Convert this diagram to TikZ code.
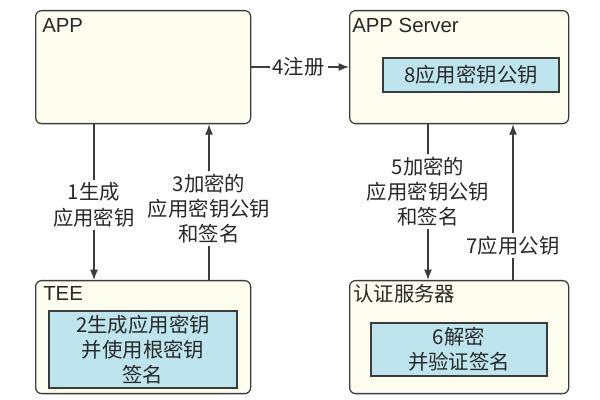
\documentclass[tikz,border=0pt]{standalone}
\usepackage{fontspec}
\setmainfont{Noto Sans CJK SC}
\newfontfamily\latinfont{Liberation Sans}
\usetikzlibrary{arrows.meta}
\definecolor{boxfill}{RGB}{254,254,240}
\definecolor{innerfill}{RGB}{190,229,238}
\definecolor{linegray}{RGB}{60,60,60}
\definecolor{textgray}{RGB}{40,40,40}
\tikzset{
	outerbox/.style={draw=linegray, fill=boxfill, rounded corners=1.5mm, line width=0.9pt, inner sep=0, anchor=north west},
	innerbox/.style={draw=linegray, fill=innerfill, line width=0.9pt, inner sep=0, align=center, text=textgray},
	boxtitle/.style={anchor=base west, inner sep=0, text=textgray},
	flow/.style={-{Latex[length=2.6mm,width=2mm]}, draw=linegray, line width=0.9pt},
	flowlabel/.style={fill=white, align=center, inner sep=2pt, text=textgray}
}

\begin{document}
\begin{tikzpicture}[font=\fontsize{14.5}{18}\selectfont]
	\useasboundingbox (0,0) rectangle (15,10);
	% outer boxes
	\node[outerbox, minimum width=5.375cm, minimum height=2.825cm] (app) at (0.875,9.75) {};
	\node[outerbox, minimum width=5.475cm, minimum height=2.825cm] (server) at (8.725,9.75) {};
	\node[outerbox, minimum width=5.375cm, minimum height=2.825cm] (tee) at (0.875,3.0) {};
	\node[outerbox, minimum width=5.475cm, minimum height=2.825cm] (auth) at (8.725,3.0) {};
	
	% titles
	\node[boxtitle, font=\latinfont\fontsize{14.5}{18}\selectfont] (apptitle) at ([xshift=0.175cm, yshift=-0.575cm]app.north west) {APP};
	\node[boxtitle, font=\latinfont\fontsize{14.5}{18}\selectfont] (servertitle) at ([xshift=0.075cm, yshift=-0.575cm]server.north west) {APP Server};
	\node[boxtitle, font=\latinfont\fontsize{14.5}{18}\selectfont] (teetitle) at ([xshift=0.2cm, yshift=-0.525cm]tee.north west) {TEE};
	\node[boxtitle] (authtitle) at ([xshift=0.1cm, yshift=-0.55cm]auth.north west) {认证服务器};
	
	% inner boxes
	\node[innerbox, minimum width=4.4cm, minimum height=0.85cm] (pubkey) at (11.775,8.125) {8应用密钥公钥};
	\node[innerbox, minimum width=4.7cm, minimum height=1.925cm] (genkey) at (3.575,1.2625) {2生成应用密钥\\并使用根密钥\\签名};
	\node[innerbox, minimum width=4.4cm, minimum height=1.325cm] (verify) at (11.475,1.2625) {6解密\\并验证签名};
	
	% flows
	\draw[flow] (app.south -| 2.35,0) -- node[flowlabel, pos=0.518] (l1) {1生成\\应用密钥} (tee.north -| 2.35,0);
	\draw[flow] (tee.north -| 5.225,0) -- node[flowlabel, pos=0.459] (l3) {3加密的\\应用密钥公钥\\和签名} (app.south -| 5.225,0);
	\draw[flow] (app.east |- 0,8.325) -- node[flowlabel, pos=0.485] (l4) {4注册} (server.west |- 0,8.325);
	\draw[flow] (server.south -| 10.7,0) -- node[flowlabel, pos=0.433] (l5) {5加密的\\应用密钥公钥\\和签名} (auth.north -| 10.7,0);
	\draw[flow] (auth.north -| 12.825,0) -- node[flowlabel, pos=0.223] (l7) {7应用公钥} (server.south -| 12.825,0);
\end{tikzpicture}
\end{document}
